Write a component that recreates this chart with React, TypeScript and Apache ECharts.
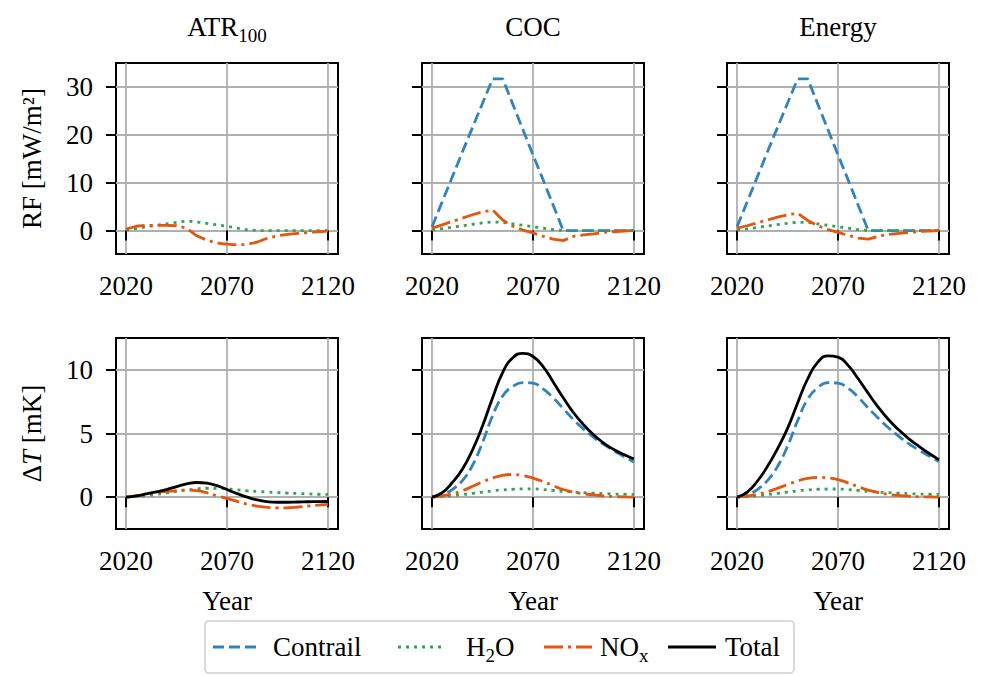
import { useEffect, useRef } from 'react';
import * as echarts from 'echarts';

// Sample years shared by every panel
const YEARS = [2020, 2025, 2030, 2035, 2040, 2045, 2050, 2055, 2060, 2065, 2070,
  2075, 2080, 2085, 2090, 2095, 2100, 2105, 2110, 2115, 2120];

const X_TICKS = [2020, 2070, 2120];
const RF_TICKS = [0, 10, 20, 30];
const DT_TICKS = [0, 5, 10];

const PANEL_TITLES = ['{n|ATR}{s|100}', '{n|COC}', '{n|Energy}'];

// Radiative forcing [mW/m²]
const atrRfH2O = [0.1, 0.4, 0.8, 1.1, 1.4, 1.7, 2.0, 1.8, 1.5, 1.2, 0.9, 0.5, 0.15, 0, 0, 0, 0, 0, 0, 0, 0];
const atrRfNOx = [0.3, 0.9, 1.1, 1.1, 1.1, 1.0, 0.5, -1.1, -2.0, -2.6, -2.85, -3.0, -2.9, -2.4, -1.6, -1.1, -0.8, -0.6, -0.4, -0.25, -0.1];

const cocRfContrail = [0.8, 6.0, 11.2, 16.4, 21.5, 26.6, 31.7, 31.7, 26.4, 21.1, 15.8, 10.6, 5.3, 0, 0, 0, 0, 0, 0, 0, 0];
const cocRfH2O = [0.1, 0.4, 0.7, 1.0, 1.3, 1.6, 1.8, 1.7, 1.4, 1.1, 0.8, 0.5, 0.2, 0, 0, 0, 0, 0, 0, 0, 0];
const cocRfNOx = [0.5, 1.2, 1.9, 2.6, 3.3, 3.9, 4.3, 2.2, 0.9, 0.1, -0.5, -1.2, -1.8, -2.1, -1.2, -0.9, -0.7, -0.4, -0.25, -0.1, 0];

const energyRfContrail = [0.8, 6.0, 11.2, 16.4, 21.5, 26.6, 31.7, 31.7, 26.4, 21.1, 15.8, 10.6, 5.3, 0, 0, 0, 0, 0, 0, 0, 0];
const energyRfH2O = [0.1, 0.35, 0.65, 0.95, 1.25, 1.5, 1.75, 1.7, 1.4, 1.1, 0.8, 0.5, 0.2, 0, 0, 0, 0, 0, 0, 0, 0];
const energyRfNOx = [0.5, 1.0, 1.6, 2.2, 2.8, 3.3, 3.6, 2.1, 1.0, 0.2, -0.4, -1.0, -1.6, -1.8, -1.2, -0.8, -0.6, -0.4, -0.2, -0.1, 0];

// Temperature change [mK]
const atrDtH2O = [0, 0.05, 0.12, 0.22, 0.33, 0.45, 0.56, 0.65, 0.7, 0.7, 0.66, 0.58, 0.5, 0.45, 0.4, 0.36, 0.32, 0.29, 0.26, 0.23, 0.21];
const atrDtNOx = [0, 0.1, 0.22, 0.35, 0.45, 0.52, 0.56, 0.52, 0.35, 0.12, -0.1, -0.33, -0.55, -0.7, -0.8, -0.84, -0.83, -0.78, -0.7, -0.63, -0.57];
const atrDtTotal = [0, 0.1, 0.25, 0.42, 0.6, 0.83, 1.05, 1.15, 1.1, 0.9, 0.6, 0.28, 0, -0.22, -0.35, -0.4, -0.4, -0.38, -0.36, -0.35, -0.34];

const cocDtContrail = [0, 0.2, 0.6, 1.3, 2.5, 4.3, 6.4, 7.95, 8.7, 9.0, 8.95, 8.5, 7.8, 6.95, 6.1, 5.35, 4.7, 4.15, 3.65, 3.2, 2.75];
const cocDtH2O = [0, 0.05, 0.12, 0.2, 0.3, 0.4, 0.5, 0.57, 0.62, 0.65, 0.65, 0.6, 0.53, 0.46, 0.4, 0.35, 0.31, 0.28, 0.25, 0.23, 0.21];
const cocDtNOx = [0, 0.1, 0.27, 0.5, 0.85, 1.2, 1.5, 1.72, 1.78, 1.7, 1.5, 1.22, 0.9, 0.6, 0.4, 0.27, 0.18, 0.1, 0.05, 0.02, 0];
const cocDtTotal = [0, 0.35, 1.15, 2.2, 3.7, 5.6, 7.8, 9.8, 10.95, 11.3, 11.05, 10.25, 9.05, 7.8, 6.65, 5.7, 4.9, 4.25, 3.75, 3.35, 3.0];

const energyDtContrail = [0, 0.2, 0.6, 1.3, 2.4, 4.0, 6.0, 7.7, 8.6, 9.0, 8.95, 8.55, 7.85, 7.0, 6.2, 5.45, 4.8, 4.2, 3.7, 3.25, 2.8];
const energyDtH2O = [0, 0.05, 0.12, 0.2, 0.3, 0.4, 0.5, 0.57, 0.62, 0.64, 0.64, 0.6, 0.53, 0.46, 0.4, 0.35, 0.31, 0.28, 0.25, 0.23, 0.21];
const energyDtNOx = [0, 0.08, 0.22, 0.42, 0.7, 1.0, 1.28, 1.48, 1.56, 1.52, 1.38, 1.12, 0.82, 0.55, 0.36, 0.22, 0.14, 0.08, 0.04, 0.02, 0];
const energyDtTotal = [0, 0.4, 1.25, 2.4, 3.8, 5.4, 7.4, 9.3, 10.6, 11.1, 11.0, 10.35, 9.3, 8.15, 7.05, 6.1, 5.3, 4.6, 4.0, 3.45, 2.95];

const FONT = '"Liberation Serif", "Times New Roman", serif';
const FS = 27;

const STYLE = {
  Contrail: { color: '#3182bd', dash: [11, 5] as number[] | 'solid' },
  H2O: { color: '#31a354', dash: [3, 5] as number[] | 'solid' },
  NOx: { color: '#e6550d', dash: [19, 5, 3, 5] as number[] | 'solid' },
  Total: { color: '#000000', dash: 'solid' as number[] | 'solid' },
};
type Kind = keyof typeof STYLE;

const panels: { kind: Kind; values: number[] }[][] = [
  [
    { kind: 'H2O', values: atrRfH2O },
    { kind: 'NOx', values: atrRfNOx },
  ],
  [
    { kind: 'Contrail', values: cocRfContrail },
    { kind: 'H2O', values: cocRfH2O },
    { kind: 'NOx', values: cocRfNOx },
  ],
  [
    { kind: 'Contrail', values: energyRfContrail },
    { kind: 'H2O', values: energyRfH2O },
    { kind: 'NOx', values: energyRfNOx },
  ],
  [
    { kind: 'H2O', values: atrDtH2O },
    { kind: 'NOx', values: atrDtNOx },
    { kind: 'Total', values: atrDtTotal },
  ],
  [
    { kind: 'Contrail', values: cocDtContrail },
    { kind: 'H2O', values: cocDtH2O },
    { kind: 'NOx', values: cocDtNOx },
    { kind: 'Total', values: cocDtTotal },
  ],
  [
    { kind: 'Contrail', values: energyDtContrail },
    { kind: 'H2O', values: energyDtH2O },
    { kind: 'NOx', values: energyDtNOx },
    { kind: 'Total', values: energyDtTotal },
  ],
];

const GRID_LEFT = [116, 422, 727];
const GRID_TOP = [63, 338];
const GRID_W = 222;
const GRID_H = 191;

const rich = {
  n: { fontFamily: FONT, fontSize: FS, color: '#000' },
  s: { fontFamily: FONT, fontSize: 19, color: '#000', padding: [16, 0, 0, 0] },
  i: { fontFamily: FONT, fontSize: FS, fontStyle: 'italic', color: '#000' },
};

const tickText = { fontFamily: FONT, fontSize: FS, color: '#000' };

export default function App() {
  const ref = useRef<HTMLDivElement>(null);

  useEffect(() => {
    if (!ref.current) return;
    const chart = echarts.init(ref.current, null, { renderer: 'svg' });

    const grids: any[] = [];
    const xAxes: any[] = [];
    const yAxes: any[] = [];
    const series: any[] = [];

    for (let row = 0; row < 2; row++) {
      for (let col = 0; col < 3; col++) {
        const idx = row * 3 + col;
        grids.push({
          left: GRID_LEFT[col],
          top: GRID_TOP[row],
          width: GRID_W,
          height: GRID_H,
          show: true,
          borderColor: '#000',
          borderWidth: 2,
          backgroundColor: 'transparent',
          containLabel: false,
        });
        xAxes.push({
          type: 'value',
          gridIndex: idx,
          min: 2015,
          max: 2125,
          axisLine: { show: false },
          axisTick: {
            show: true,
            customValues: X_TICKS,
            length: 10,
            lineStyle: { color: '#000', width: 2 },
          },
          axisLabel: {
            customValues: X_TICKS,
            margin: 18,
            formatter: (v: number) => String(v),
            ...tickText,
          },
          splitLine: { show: true, lineStyle: { color: '#b0b0b0', width: 1.8 } },
          name: row === 1 ? 'Year' : '',
          nameLocation: 'middle',
          nameGap: 58,
          nameTextStyle: tickText,
        });
        const ticks = row === 0 ? RF_TICKS : DT_TICKS;
        yAxes.push({
          type: 'value',
          gridIndex: idx,
          min: row === 0 ? -4.9 : -2.5,
          max: row === 0 ? 35 : 12.5,
          axisLine: { show: false },
          axisTick: {
            show: true,
            customValues: ticks,
            length: 10,
            lineStyle: { color: '#000', width: 2 },
          },
          axisLabel: {
            show: col === 0,
            customValues: ticks,
            margin: 23,
            formatter: (v: number) => String(v),
            ...tickText,
          },
          splitLine: { show: true, lineStyle: { color: '#b0b0b0', width: 1.8 } },
          name: col === 0 ? (row === 0 ? '{n|RF [mW/m²]}' : '{n|Δ}{i|T}{n| [mK]}') : '',
          nameLocation: 'middle',
          nameGap: 71,
          nameTextStyle: { ...tickText, rich },
        });
        for (const s of panels[idx]) {
          const st = STYLE[s.kind];
          series.push({
            type: 'line',
            name: s.kind,
            xAxisIndex: idx,
            yAxisIndex: idx,
            data: YEARS.map((y, k) => [y, s.values[k]]),
            showSymbol: false,
            symbol: 'none',
            smooth: row === 1 ? 0.5 : false,
            lineStyle: { color: st.color, width: 2.8, type: st.dash, cap: 'butt' },
            z: s.kind === 'Total' ? 4 : 3,
          });
        }
      }
    }

    const titles = PANEL_TITLES.map((t, col) => ({
      type: 'text',
      x: GRID_LEFT[col] + GRID_W / 2,
      y: 27,
      style: { text: t, rich, align: 'center', verticalAlign: 'middle' },
    }));

    // Legend drawn below the panels
    const LEG_Y = 647;
    const legendItems: { kind: Kind; label: string; x1: number; x2: number; tx: number }[] = [
      { kind: 'Contrail', label: '{n|Contrail}', x1: 213, x2: 260, tx: 273 },
      { kind: 'H2O', label: '{n|H}{s|2}{n|O}', x1: 398, x2: 446, tx: 466 },
      { kind: 'NOx', label: '{n|NO}{s|x}', x1: 544, x2: 592, tx: 600 },
      { kind: 'Total', label: '{n|Total}', x1: 668, x2: 716, tx: 725 },
    ];
    const legend: any[] = [
      {
        type: 'rect',
        shape: { x: 205, y: 621, width: 589, height: 52, r: 4 },
        style: { fill: '#fff', stroke: '#d0d0d0', lineWidth: 1.6 },
      },
    ];
    for (const it of legendItems) {
      const st = STYLE[it.kind];
      legend.push({
        type: 'line',
        shape: { x1: it.x1, y1: LEG_Y, x2: it.x2, y2: LEG_Y },
        style: {
          stroke: st.color,
          lineWidth: 2.8,
          lineDash: st.dash === 'solid' ? null : st.dash,
          lineCap: 'butt',
        },
      });
      legend.push({
        type: 'text',
        x: it.tx,
        y: LEG_Y,
        style: { text: it.label, rich, align: 'left', verticalAlign: 'middle' },
      });
    }

    chart.setOption({
      animation: false,
      backgroundColor: '#fff',
      textStyle: { fontFamily: FONT },
      grid: grids,
      xAxis: xAxes,
      yAxis: yAxes,
      series,
      graphic: [...titles, ...legend],
    });

    return () => chart.dispose();
  }, []);

  return (
    <div
      ref={ref}
      style={{ position: 'fixed', left: 0, top: 0, width: 983, height: 676 }}
    />
  );
}
